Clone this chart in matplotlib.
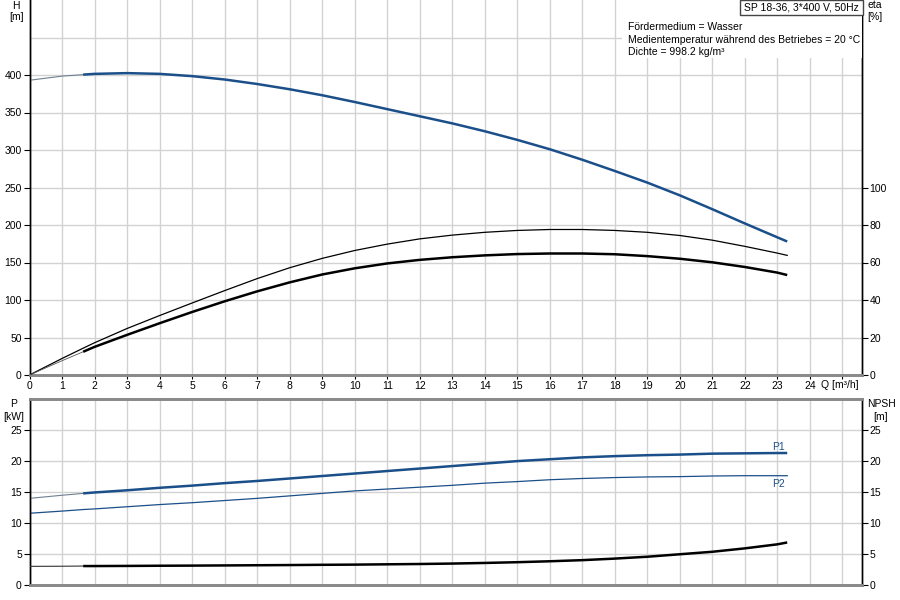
import matplotlib
matplotlib.use('Agg')
import matplotlib.pyplot as plt
import matplotlib.patches as patches
import matplotlib.transforms as mtransforms
import numpy as np

plt.rcParams['font.family'] = ['Liberation Sans', 'DejaVu Sans']
plt.rcParams['font.size'] = 7.5

# --- data ---
q = [0, 1, 1.65, 2, 3, 4, 5, 6, 7, 8, 9, 10, 11, 12, 13, 14, 15, 16, 17, 18,
     19, 20, 21, 22, 23, 23.3]
head = [393, 398.5, 400.5, 401.5, 402.5, 401.5, 398.5, 394, 388, 381, 373, 364,
        354.5, 345, 335.5, 325, 313.5, 301, 287, 272, 256.5, 239.5, 221, 202, 183.5, 178]
eta_pump = [0, 8.8, 14.3, 17.2, 24.8, 31.7, 38.4, 45.0, 51.4, 57.2, 62.2, 66.4,
            69.8, 72.6, 74.6, 76.1, 77.1, 77.6, 77.6, 77.1, 76.1, 74.4, 71.9, 68.6,
            65.0, 63.8]
eta_total = [0, 7.6, 12.4, 15.0, 21.4, 27.6, 33.6, 39.3, 44.6, 49.4, 53.6, 56.9,
             59.5, 61.4, 62.8, 63.8, 64.5, 64.8, 64.8, 64.4, 63.4, 62.0, 60.1, 57.6,
             54.6, 53.3]
p1 = [14.0, 14.5, 14.8, 14.95, 15.3, 15.7, 16.05, 16.45, 16.8, 17.2, 17.6, 18.0,
      18.4, 18.8, 19.2, 19.6, 20.0, 20.3, 20.6, 20.8, 20.95, 21.05, 21.2, 21.25,
      21.3, 21.3]
p2 = [11.6, 11.95, 12.2, 12.3, 12.65, 13.0, 13.3, 13.65, 14.0, 14.4, 14.8, 15.2,
      15.5, 15.8, 16.1, 16.45, 16.7, 17.0, 17.2, 17.35, 17.45, 17.5, 17.6, 17.65,
      17.65, 17.65]
npsh = [3.05, 3.07, 3.1, 3.1, 3.12, 3.15, 3.17, 3.2, 3.23, 3.26, 3.3, 3.33, 3.38,
        3.43, 3.5, 3.6, 3.72, 3.87, 4.05, 4.3, 4.6, 5.0, 5.4, 5.95, 6.6, 6.9]

x_ticks = list(range(0, 26))
h_ticks = list(range(0, 401, 50))
eta_ticks = list(range(0, 101, 20))
p_ticks = list(range(0, 26, 5))

BLUE = '#1b4f8a'
GRID = '#d2d2d2'
GRAY_SPINE = '#8a8a8a'
THIN_START = '#6f7f90'

fig = plt.figure(figsize=(9, 6), dpi=100, facecolor='white')
W, H_PX = 900.0, 600.0
x0, x1 = 29.5, 862.0
ax1 = fig.add_axes([x0 / W, (H_PX - 375) / H_PX, (x1 - x0) / W, 375 / H_PX])
ax2 = fig.add_axes([x0 / W, (H_PX - 585.3) / H_PX, (x1 - x0) / W, (585.3 - 399) / H_PX])
ax1r = ax1.twinx()
ax2r = ax2.twinx()

for a in (ax1, ax2, ax1r, ax2r):
    a.set_xlim(0, 25.6)
    a.tick_params(direction='out', length=4, width=0.8, pad=1.5, labelsize=7.5)

# --- top panel: H and eta ---
ax1.set_ylim(0, 500)
ax1r.set_ylim(0, 200)
ax1.set_axisbelow(True)
ax1.set_xticks(x_ticks)
ax1.set_xticklabels([str(v) for v in x_ticks[:-1]] + [''])
ax1.set_yticks(h_ticks)
ax1.set_yticks([450], minor=True)
ax1.tick_params(axis='y', which='minor', length=0)
ax1.grid(True, which='both', color=GRID, lw=1)
ax1r.set_yticks(eta_ticks)
ax1.tick_params(axis='x', length=3)

ax1.plot(q[:3], head[:3], color=THIN_START, lw=0.8, zorder=3)
ax1.plot(q[2:], head[2:], color=BLUE, lw=1.8, zorder=3, solid_capstyle='butt')
ax1r.plot(q, eta_pump, color='black', lw=0.9, zorder=3)
ax1r.plot(q[:3], eta_total[:3], color='#555555', lw=0.6, zorder=3)
ax1r.plot(q[2:], eta_total[2:], color='black', lw=1.8, zorder=3, solid_capstyle='butt')

tr = mtransforms.blended_transform_factory(ax1.transData, ax1.transAxes)
ax1.text(24.35, -0.026, 'Q [m³/h]', transform=tr, ha='left', va='center', fontsize=7.5)

# --- bottom panel: P1, P2, NPSH ---
ax2.set_ylim(0, 30)
ax2r.set_ylim(0, 30)
ax2.set_axisbelow(True)
ax2.set_xticks(x_ticks)
ax2.tick_params(axis='x', length=0, labelbottom=False)
ax2.set_yticks(p_ticks)
ax2r.set_yticks(p_ticks)
ax2.grid(True, color=GRID, lw=1)

ax2.plot(q[:3], p1[:3], color=THIN_START, lw=0.8, zorder=3)
ax2.plot(q[2:], p1[2:], color=BLUE, lw=1.8, zorder=3, solid_capstyle='butt')
ax2.plot(q, p2, color=BLUE, lw=0.9, zorder=3)
ax2r.plot(q[:3], npsh[:3], color='#333333', lw=0.8, zorder=3)
ax2r.plot(q[2:], npsh[2:], color='black', lw=1.8, zorder=3, solid_capstyle='butt')
ax2.text(23.03, 22.3, 'P1', color=BLUE, ha='center', va='center', fontsize=7.5)
ax2.text(23.03, 16.3, 'P2', color=BLUE, ha='center', va='center', fontsize=7.5)

# --- spines ---
for a in (ax1, ax1r):
    a.spines['top'].set_visible(False)
    a.spines['bottom'].set_color(GRAY_SPINE)
    a.spines['bottom'].set_linewidth(2)
    a.spines['left'].set_color('black')
    a.spines['right'].set_color('black')
    a.spines['left'].set_linewidth(1)
    a.spines['right'].set_linewidth(1)
for a in (ax2, ax2r):
    for s in ('top', 'bottom'):
        a.spines[s].set_color(GRAY_SPINE)
        a.spines[s].set_linewidth(2)
    a.spines['left'].set_color('black')
    a.spines['right'].set_color('black')
    a.spines['left'].set_linewidth(1)
    a.spines['right'].set_linewidth(1)

# --- axis captions ---
def fx(px):
    return px / W

def fy(py):
    return 1 - py / H_PX

fig.text(fx(16), fy(5.7), 'H', ha='center', va='center')
fig.text(fx(16.5), fy(16.7), '[m]', ha='center', va='center')
fig.text(fx(875), fy(5.5), 'eta', ha='center', va='center')
fig.text(fx(875), fy(17), '[%]', ha='center', va='center')
fig.text(fx(13.5), fy(404), 'P', ha='center', va='center')
fig.text(fx(14), fy(416.7), '[kW]', ha='center', va='center')
fig.text(fx(881), fy(404), 'NPSH', ha='center', va='center')
fig.text(fx(880.5), fy(416.7), '[m]', ha='center', va='center')

# --- info block ---
fig.patches.append(patches.Rectangle((fx(622), fy(58)), (x1 - 622) / W, 58 / H_PX,
                                     transform=fig.transFigure, facecolor='white',
                                     edgecolor='none', zorder=2))
fig.patches.append(patches.Rectangle((fx(740), fy(14.7)), (863 - 740) / W, 14.7 / H_PX,
                                     transform=fig.transFigure, facecolor='white',
                                     edgecolor='#444444', lw=1, zorder=3))
fig.text(fx(801.5), fy(7.5), 'SP 18-36, 3*400 V, 50Hz', ha='center', va='center', zorder=4)
fig.text(fx(627.7), fy(26.7), 'Fördermedium = Wasser', ha='left', va='center', zorder=4)
fig.text(fx(627.7), fy(40), 'Medientemperatur während des Betriebes = 20 °C',
         ha='left', va='center', zorder=4)
fig.text(fx(627.7), fy(52.3), 'Dichte = 998.2 kg/m³', ha='left', va='center', zorder=4)

fig.savefig('out.png', dpi=100, facecolor='white')
